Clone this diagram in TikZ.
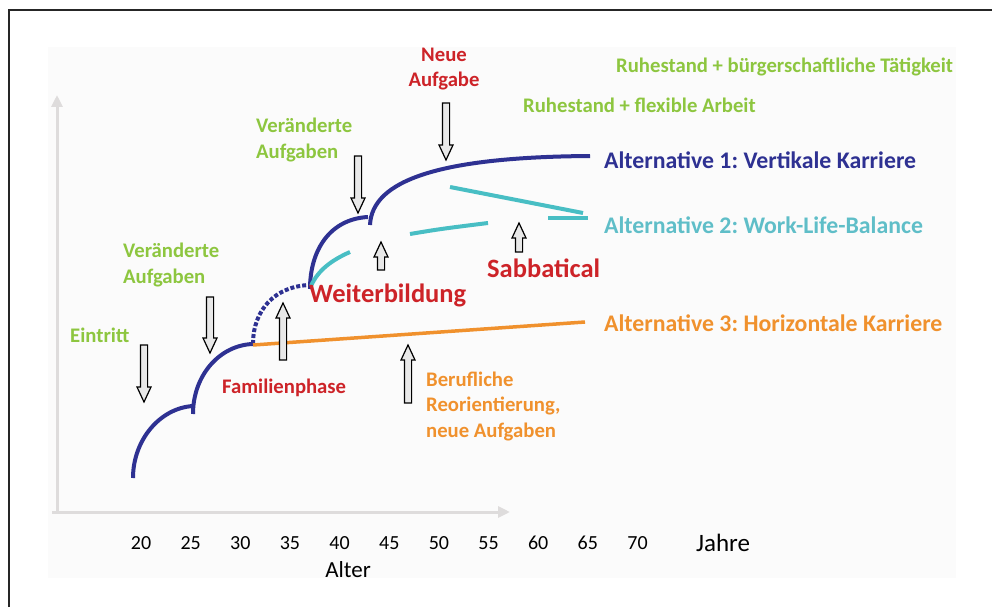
\documentclass[tikz,border=0pt]{standalone}
\usepackage{fontspec}
\setmainfont{Carlito}
\usepackage{tikz}
\usetikzlibrary{arrows.meta}
\frenchspacing

\definecolor{careerblue}{RGB}{46,49,146}
\definecolor{balancecyan}{RGB}{72,190,196}
\definecolor{balancetext}{RGB}{95,190,200}
\definecolor{horizorange}{RGB}{240,145,45}
\definecolor{eventred}{RGB}{205,35,40}
\definecolor{taskgreen}{RGB}{141,198,63}
\definecolor{axisgray}{RGB}{222,220,220}
\definecolor{panelgray}{RGB}{251,251,251}
\definecolor{arrowfill}{RGB}{232,232,232}

\begin{document}
\begin{tikzpicture}[x=1pt, y=-1pt,
    lbl/.style={inner sep=0pt, anchor=base west, font=\bfseries\fontsize{20.7}{25.5}\selectfont},
    biglbl/.style={lbl, font=\bfseries\fontsize{26.5}{30}\selectfont},
    altlbl/.style={lbl, font=\bfseries\fontsize{23.8}{27}\selectfont},
    path/.style={line width=4pt},
    pics/hollowarrow/.style={code={
        \draw[line width=1.2pt, fill=arrowfill, line join=miter]
            (-3.6,0) -- (-3.6,{#1-15}) -- (-7,{#1-15}) -- (0,#1)
            -- (7,{#1-15}) -- (3.6,{#1-15}) -- (3.6,0) -- cycle;
    }}]
    \useasboundingbox (0,0) rectangle (992,607);

    % Frame and panel
    \fill[panelgray] (48,47) rectangle (956,578);
    \draw[line width=1.5pt, black!85] (9,607) -- (9,10) -- (992,10);

    % Axes
    \draw[axisgray, line width=3pt, -{Triangle[width=11pt,length=12pt]}] (57,512) -- (57,95);
    \draw[axisgray, line width=3pt, -{Triangle[width=11pt,length=12pt]}] (52,512) -- (510,512);
    \foreach \a in {20,25,...,70}
        \node[font=\fontsize{20}{24}\selectfont, inner sep=0pt] (age\a) at ({141+9.93*(\a-20)},543) {\a};
    \node[font=\fontsize{25}{28}\selectfont, inner sep=0pt] (jahre) at (723,543) {Jahre};
    \node[font=\fontsize{23}{26}\selectfont, inner sep=0pt] (alter) at (348,570) {Alter};

    % Career path - steps
    \draw[careerblue, path] (133,478) .. controls (133,440) and (160,408) .. (193,406);
    \draw[careerblue, path] (193,414) .. controls (193,375) and (220,345) .. (253,344);
    \draw[careerblue, path, dotted, line cap=butt] (253,344) .. controls (253,310) and (275,286) .. (310,285);
    \draw[careerblue, path] (310,289) .. controls (310,250) and (330,219) .. (368,217);
    \draw[careerblue, path] (370,225) .. controls (372,180) and (440,157) .. (590,156); % Alternative 1

    % Alternative 2 (work-life balance)
    \draw[balancecyan, path] (311,286) .. controls (318,270) and (332,260) .. (350,252);
    \draw[balancecyan, path] (410,234) .. controls (440,229) .. (488,223);
    \draw[balancecyan, path] (548,218) -- (588,218);
    \draw[balancecyan, path] (450,187) -- (583,213);

    % Alternative 3 (horizontal)
    \draw[horizorange, line width=3.5pt] (253,345) -- (585,322);

    % Hollow arrows
    \pic at (144,345) {hollowarrow=57};
    \pic at (210,297) {hollowarrow=56};
    \pic at (358,156) {hollowarrow=57};
    \pic at (446,103) {hollowarrow=57};
    \pic[rotate=180] at (283,360) {hollowarrow=57};
    \pic[rotate=180] at (381,270) {hollowarrow=28};
    \pic[rotate=180] at (519,252) {hollowarrow=29};
    \pic[rotate=180] at (408,403) {hollowarrow=58};

    % Labels (multi-line nodes sit on their last baseline)
    \node[lbl, taskgreen] (eintritt) at (70,342) {Eintritt};
    \node[lbl, taskgreen, align=left] (aufgabeneins) at (123,283) {Veränderte\\Aufgaben};
    \node[lbl, taskgreen, align=left] (aufgabenzwei) at (256,158) {Veränderte\\Aufgaben};
    \node[lbl, eventred, align=center, anchor=base] (neueaufgabe) at (444,87) {Neue\\Aufgabe};
    \node[lbl, taskgreen] (ruhestandeins) at (616,73) {Ruhestand + bürgerschaftliche Tätigkeit};
    \node[lbl, taskgreen] (ruhestandzwei) at (523,113) {Ruhestand + flexible Arbeit};
    \node[altlbl, careerblue] (alteins) at (604,168) {Alternative 1: Vertikale Karriere};
    \node[altlbl, balancetext] (altzwei) at (604,233) {Alternative 2: Work-Life-Balance};
    \node[altlbl, horizorange] (altdrei) at (604,331) {Alternative 3: Horizontale Karriere};
    \node[biglbl, eventred] (sabbatical) at (487,277) {Sabbatical};
    \node[biglbl, eventred] (weiterbildung) at (309,302) {Weiterbildung};
    \node[lbl, eventred] (familienphase) at (222,393) {Familienphase};
    \node[lbl, horizorange, align=left] (reorientierung) at (426,437) {Berufliche\\Reorientierung,\\neue Aufgaben};
\end{tikzpicture}
\end{document}
